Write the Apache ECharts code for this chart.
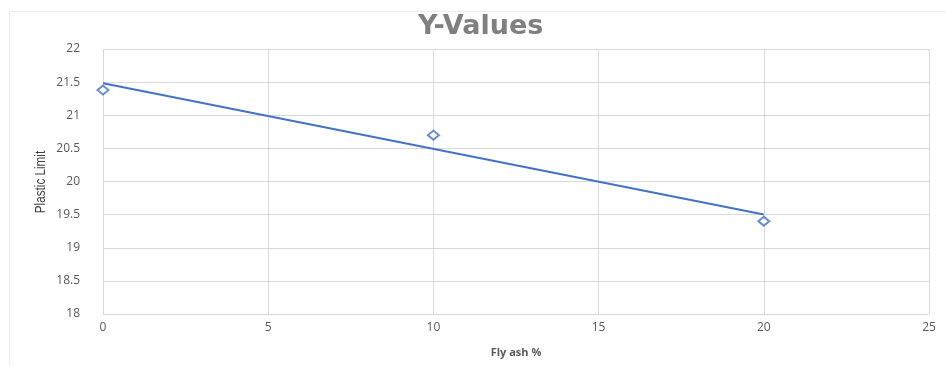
<!DOCTYPE html>
<html>
<head>
<meta charset="utf-8">
<script src="https://cdn.jsdelivr.net/npm/echarts@6/dist/echarts.min.js"></script>
<style>
  html, body { margin: 0; padding: 0; background: #ffffff; }
  #chart { width: 946px; height: 366px; }
</style>
</head>
<body>
<div id="chart"></div>
<script>
// Measured samples: fly ash content (%) vs plastic limit
const flyAsh = [0, 10, 20];
const plasticLimit = [21.38, 20.7, 19.4];

// Axis ranges / tick steps
const xTicks = { min: 0, max: 25, step: 5 };
const yTicks = { min: 18, max: 22, step: 0.5 };

// Least-squares linear trendline through the samples
function linearFit(xs, ys) {
  const n = xs.length;
  const mx = xs.reduce((a, b) => a + b, 0) / n;
  const my = ys.reduce((a, b) => a + b, 0) / n;
  let sxy = 0, sxx = 0;
  for (let i = 0; i < n; i++) {
    sxy += (xs[i] - mx) * (ys[i] - my);
    sxx += (xs[i] - mx) * (xs[i] - mx);
  }
  const slope = sxy / sxx;
  return { slope, intercept: my - slope * mx };
}
const fit = linearFit(flyAsh, plasticLimit);
const xFirst = Math.min(...flyAsh), xLast = Math.max(...flyAsh);
const trend = [
  [xFirst, fit.intercept + fit.slope * xFirst],
  [xLast, fit.intercept + fit.slope * xLast]
];

const chart = echarts.init(document.getElementById('chart'), null, { renderer: 'canvas' });
const labelColor = '#595959';
const blue = '#4472C4';

chart.setOption({
  backgroundColor: '#ffffff',
  animation: false,
  graphic: [
    {
      type: 'rect',
      shape: { x: 9.5, y: 11.5, width: 960, height: 400 },
      style: { fill: 'none', stroke: '#ececec', lineWidth: 1 },
      silent: true,
      z: -1
    },
    {
      // condensed, vertical y-axis title
      type: 'text',
      x: 41,
      y: 182,
      rotation: Math.PI / 2,
      scaleX: 0.78,
      style: {
        text: 'Plastic Limit',
        font: '15px "Liberation Sans", Arial, sans-serif',
        fill: '#404040',
        align: 'center',
        verticalAlign: 'middle'
      },
      silent: true
    }
  ],
  title: {
    text: 'Y-Values',
    left: 413,
    top: 8,
    textStyle: {
      fontFamily: '"DejaVu Sans", sans-serif',
      fontSize: 27,
      fontWeight: 'bold',
      color: '#808080'
    }
  },
  grid: { left: 103, right: 17, top: 49, bottom: 52, containLabel: false },
  xAxis: {
    type: 'value',
    min: xTicks.min,
    max: xTicks.max,
    interval: xTicks.step,
    name: 'Fly ash %',
    nameLocation: 'middle',
    nameGap: 33,
    nameTextStyle: {
      fontFamily: '"Open Sans", sans-serif',
      fontSize: 11,
      fontWeight: 'bold',
      color: labelColor
    },
    axisLine: { show: false },
    axisTick: { show: false },
    axisLabel: {
      color: labelColor,
      fontFamily: '"Open Sans", sans-serif',
      fontSize: 12,
      margin: 8
    },
    splitLine: { show: true, lineStyle: { color: '#d9d9d9', width: 1 } }
  },
  yAxis: {
    type: 'value',
    min: yTicks.min,
    max: yTicks.max,
    interval: yTicks.step,
    axisLine: { show: false },
    axisTick: { show: false },
    axisLabel: {
      color: labelColor,
      fontFamily: '"Open Sans", sans-serif',
      fontSize: 12,
      margin: 23
    },
    splitLine: { show: true, lineStyle: { color: '#d9d9d9', width: 1 } }
  },
  series: [
    {
      name: 'Linear trend',
      type: 'line',
      data: trend,
      symbol: 'none',
      lineStyle: { color: blue, width: 2 },
      z: 2
    },
    {
      name: 'Y-Values',
      type: 'scatter',
      data: flyAsh.map((x, i) => [x, plasticLimit[i]]),
      symbol: 'diamond',
      symbolSize: [11, 9],
      itemStyle: { color: '#ffffff', borderColor: blue, borderWidth: 2 },
      z: 3
    }
  ]
});
</script>
</body>
</html>
